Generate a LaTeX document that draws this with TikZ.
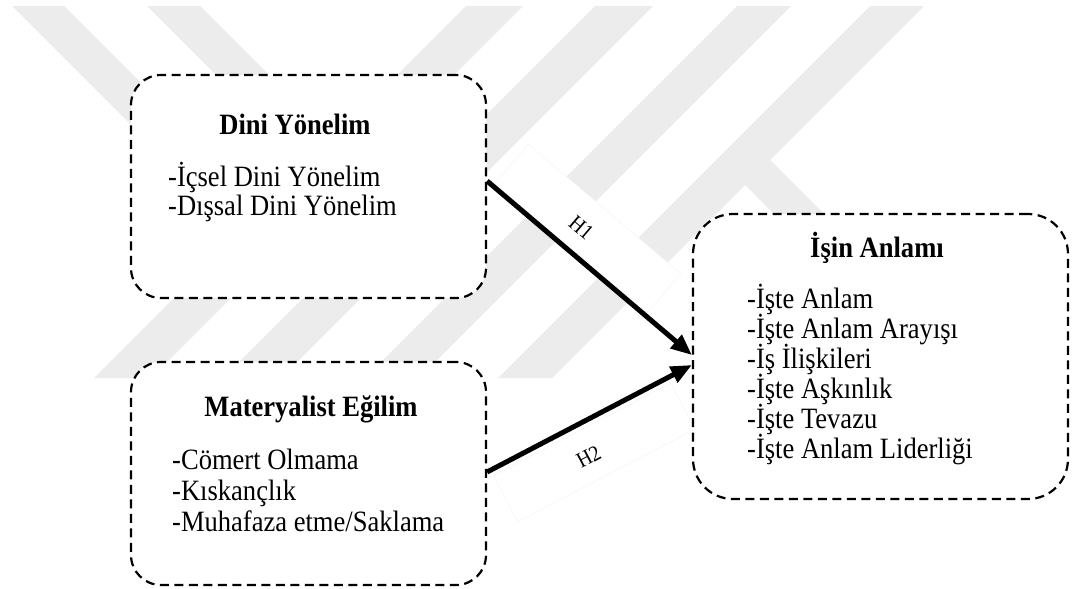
\documentclass[tikz,border=0pt]{standalone}
\usepackage{fontspec}
\setmainfont{Liberation Serif}[FakeStretch=0.9]
\usetikzlibrary{arrows.meta,calc}
\definecolor{wm}{HTML}{ECECEC}
\pgfdeclarelayer{bg}
\pgfsetlayers{bg,main}
\begin{document}
\begin{tikzpicture}[x=1pt,y=-1pt,
  box/.style={draw=black, line width=2.2pt, dash pattern=on 9pt off 5.5pt, fill=white, rounded corners=30pt, inner sep=0pt},
  ttl/.style={font=\fontsize{29.5}{30}\selectfont\bfseries, inner sep=0pt, anchor=base},
  itm/.style={font=\fontsize{29.5}{30}\selectfont, inner sep=0pt, anchor=base west},
  arr/.style={line width=5pt, -{Triangle[length=21pt,width=17pt]}},
  wbox/.style={fill=white, draw=black!4, line width=0.5pt, minimum width=200pt, minimum height=52pt, inner sep=0pt},
  lbl/.style={font=\fontsize{22}{24}\selectfont, inner sep=1pt}
]
\useasboundingbox (0,0) rectangle (1072,589);
% boxes
\node[box, minimum width=355pt, minimum height=223pt] (dini) at (308.5,186.5) {};
\node[box, minimum width=355pt, minimum height=223pt] (mat) at (308.5,473.5) {};
\node[box, rounded corners=40pt, minimum width=375pt, minimum height=285pt] (isin) at (880.5,356.5) {};
% texts
\node[ttl] (dt) at (295,134) {Dini Yönelim};
\node[itm] (d1) at (168,186) {-İçsel Dini Yönelim};
\node[itm] (d2) at (168,215) {-Dışsal Dini Yönelim};
\node[ttl] (mt) at (311,416) {Materyalist Eğilim};
\node[itm] (m1) at (172,469) {-Cömert Olmama};
\node[itm] (m2) at (172,500) {-Kıskançlık};
\node[itm] (m3) at (172,531) {-Muhafaza etme/Saklama};
\node[ttl] (it) at (877,257) {İşin Anlamı};
\node[itm] (i1) at (747,308) {-İşte Anlam};
\node[itm] (i2) at (747,338) {-İşte Anlam Arayışı};
\node[itm] (i3) at (747,368) {-İş İlişkileri};
\node[itm] (i4) at (747,398) {-İşte Aşkınlık};
\node[itm] (i5) at (747,428) {-İşte Tevazu};
\node[itm] (i6) at (747,458) {-İşte Anlam Liderliği};
% arrow end points
\coordinate (h1s) at (dini.east |- 0,181);
\coordinate (h1e) at (isin.west |- 0,355);
\coordinate (h2s) at (mat.east |- 0,472);
\coordinate (h2e) at (isin.west |- 0,365);
% background: watermark and label panels
\begin{pgfonlayer}{bg}
\fill[white] (0,0) rectangle (1072,589);
\fill[wm] (466,6) -- (523,6) -- (151,378) -- (94,378) -- cycle;
\fill[wm] (595,6) -- (653,6) -- (281,378) -- (223,378) -- cycle;
\fill[wm] (737,6) -- (791,6) -- (419,378) -- (365,378) -- cycle;
\fill[wm] (870,6) -- (924,6) -- (552,378) -- (498,378) -- cycle;
\fill[wm] (12,6) -- (64,6) -- (265,207) -- (239,233) -- cycle;
\fill[wm] (147,6) -- (200,6) -- (397.5,203.5) -- (371,230) -- cycle;
\fill[wm] (770,160) -- (988,378) -- (938,378) -- (745,185) -- cycle;
\path (h1s) -- node[wbox, sloped, pos=0.40, above=2.5pt] (r1) {} (h1e);
\path (h2s) -- node[wbox, sloped, pos=0.45, below=6pt] (r2) {} (h2e);
\end{pgfonlayer}
% arrows and labels
\draw[arr] (h1s) -- (h1e);
\draw[arr] (h2s) -- (h2e);
\path (h1s) -- node[lbl, sloped, pos=0.38, above=17pt] (lab1) {H1} (h1e);
\path (h2s) -- node[lbl, sloped, pos=0.42, below=25pt] (lab2) {H2} (h2e);
\end{tikzpicture}
\end{document}
